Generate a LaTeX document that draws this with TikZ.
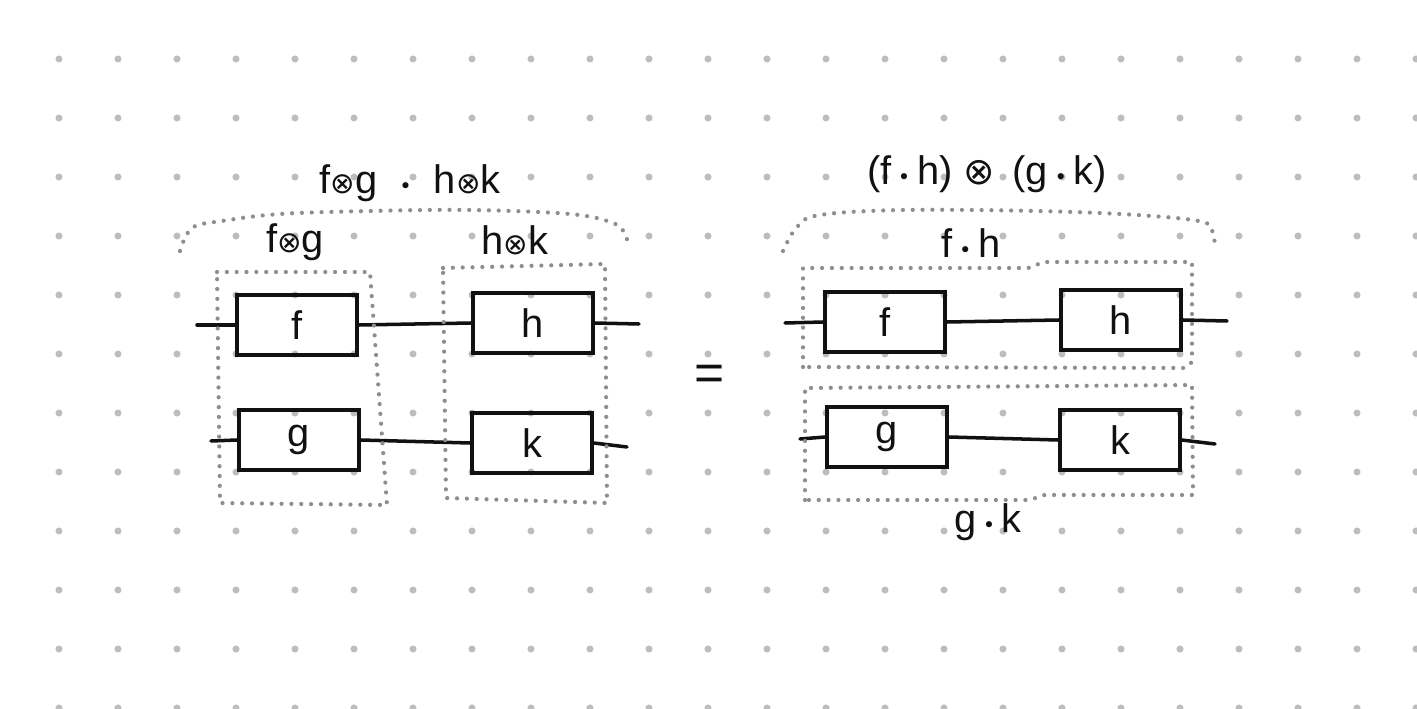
\documentclass[tikz,border=0pt]{standalone}
\usepackage{fontspec}
\setmainfont{Liberation Sans}
\newfontfamily\symf{DejaVu Sans}
\definecolor{ink}{HTML}{111111}
\definecolor{gridgray}{HTML}{BDBDBD}
\definecolor{dotgray}{HTML}{8E8E8E}
\newcommand{\otm}{{\symf\fontsize{25}{20}\selectfont ⊗}}
\newcommand{\otmbig}{{\symf\fontsize{32}{20}\selectfont ⊗}}
\newcommand{\dt}{{\symf\fontsize{18}{20}\selectfont •}}
\tikzset{
  griddot/.style={fill=gridgray, draw=none},
  stepbox/.style={draw=ink, line width=3.2pt, minimum width=3.6cm, minimum height=1.8cm, inner sep=0pt,
    font=\fontsize{34}{36}\selectfont, text=ink},
  wire/.style={draw=ink, line width=3pt, line cap=round},
  grp/.style={draw=dotgray, line width=3.6pt, line cap=round, dash pattern=on 0pt off 8.4pt},
  lbl/.style={inner sep=0pt, text=ink, font=\fontsize{34}{36}\selectfont}
}
\begin{document}
\begin{tikzpicture}[x=0.03cm,y=-0.03cm]
\useasboundingbox (0,0) rectangle (1417,709);
\fill[white] (0,0) rectangle (1417,709);
\begin{scope}
\clip (0,0) rectangle (1417,709);
\foreach \i in {1,...,24}{\foreach \j in {1,...,12}{
  \fill[griddot] (59*\i,59*\j) circle[radius=3pt];}}
\end{scope}

% ---------- left side ----------
\node[stepbox] (f1) at (297,325) {f};
\node[stepbox] (g1) at (299,440) {g};
\node[stepbox] (h1) at (533,323) {h};
\node[stepbox] (k1) at (532,443) {k};
\coordinate (f1in) at (197,325);
\coordinate (g1in) at (211,441);
\coordinate (h1out) at (639,324);
\coordinate (k1out) at (627,447);
\draw[wire] (f1in) -- (f1.west);
\draw[wire] (f1.east) -- (h1.west);
\draw[wire] (h1.east) -- (h1out);
\draw[wire] (g1in) -- (g1.west);
\draw[wire] (g1.east) -- (k1.west);
\draw[wire] (k1.east) -- (k1out);

\draw[grp] (217,272) -- (370,272) -- (387,505) -- (220,503) -- cycle;
\draw[grp] (443,268) -- (605,264) -- (607,503) -- (446,498) -- cycle;
\draw[grp] plot[smooth, tension=0.6] coordinates {(180,251) (192,228) (222,221) (280,214) (370,211) (470,210) (570,214) (613,223) (625,234) (628,246)};

\node[lbl] (topL) at (410,183) {f\otm g\ \ \dt\ \ h\otm k};
\node[lbl] (fg) at (295,242) {f\otm g};
\node[lbl] (hk) at (515,240) {h\otm k};

\node[lbl, font=\fontsize{44}{44}\selectfont] (eq) at (710,378) {=};

% ---------- right side ----------
\node[stepbox] (f2) at (885,322) {f};
\node[stepbox] (h2) at (1121,320) {h};
\node[stepbox] (g2) at (887,437) {g};
\node[stepbox] (k2) at (1120,440) {k};
\coordinate (f2in) at (785,323);
\coordinate (g2in) at (800,439);
\coordinate (h2out) at (1227,321);
\coordinate (k2out) at (1215,444);
\draw[wire] (f2in) -- (f2.west);
\draw[wire] (f2.east) -- (h2.west);
\draw[wire] (h2.east) -- (h2out);
\draw[wire] (g2in) -- (g2.west);
\draw[wire] (g2.east) -- (k2.west);
\draw[wire] (k2.east) -- (k2out);

\draw[grp] (803,367) -- (803,268) -- (1028,268) to[out=0,in=180] (1045,262) -- (1192,262) -- (1192,362) -- (1185,368) -- cycle;
\draw[grp] (805,500) -- (805,388) -- (1192,385) -- (1193,495) -- (1045,495) to[out=180,in=0] (1028,500) -- cycle;
\draw[grp] plot[smooth, tension=0.6] coordinates {(783,251) (797,227) (820,215) (903,210) (1037,211) (1137,215) (1203,222) (1213,235) (1215,247)};

\node[lbl] (topR) at (987,174) {(f\,\dt\,h)\ \otmbig\ \,(g\,\dt\,k)};
\node[lbl] (fh) at (971,243) {f\,\dt\,h};
\node[lbl] (gk) at (988,522) {g\,\dt\,k};
\end{tikzpicture}
\end{document}
